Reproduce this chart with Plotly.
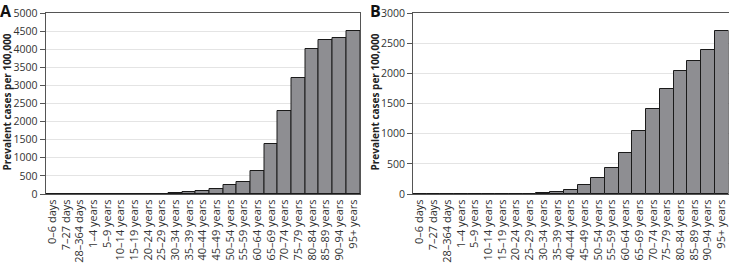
import plotly.graph_objects as go
from plotly.subplots import make_subplots

categories = ["0–6 days", "7–27 days", "28–364 days", "1–4 years", "5–9 years",
              "10–14 years", "15–19 years", "20–24 years", "25–29 years", "30–34 years",
              "35–39 years", "40–44 years", "45–49 years", "50–54 years", "55–59 years",
              "60–64 years", "65–69 years", "70–74 years", "75–79 years", "80–84 years",
              "85–89 years", "90–94 years", "95+ years"]

values_a = [0, 0, 0, 0, 0, 0, 0, 0, 0, 18, 55, 83, 147, 239, 340, 634, 1379,
            2288, 3199, 3998, 4265, 4301, 4504]
values_b = [0, 0, 0, 0, 0, 0, 0, 0, 0, 11, 28, 61, 143, 259, 436, 673, 1042,
            1417, 1748, 2035, 2211, 2393, 2702]

ticks_a = [0, 500, 1000, 1500, 2000, 2500, 3000, 3500, 4000, 4500, 5000]
ticks_b = [0, 500, 1000, 1500, 2000, 2500, 3000]

W, H = 729, 263
TOP, BOT = 13, 194
FONT = "Open Sans"
bar_color = "rgb(142,142,146)"


def py(pix):
    return (BOT - pix) / (BOT - TOP)


fig = make_subplots(rows=1, cols=2)
fig.add_trace(go.Bar(x=categories, y=values_a, marker=dict(color=bar_color,
                     line=dict(color="#1a1a1a", width=1)), showlegend=False), 1, 1)
fig.add_trace(go.Bar(x=categories, y=values_b, marker=dict(color=bar_color,
                     line=dict(color="#1a1a1a", width=1)), showlegend=False), 1, 2)

axis_common = dict(showline=True, mirror=True, linecolor="#555555", linewidth=1)
fig.update_xaxes(**axis_common, tickangle=-90, showgrid=False, ticks="",
                 automargin=False, tickmode="array", tickvals=categories,
                 ticktext=categories,
                 tickfont=dict(family=FONT, size=11, color="#333333"))
fig.update_yaxes(**axis_common, showgrid=True, gridcolor="#e4e4e4", ticks="outside",
                 ticklen=5, tickcolor="#555555", zeroline=False, automargin=False,
                 tickfont=dict(family=FONT, size=10.5, color="#333333"))

fig.update_xaxes(domain=[45.5 / W, 360 / W], row=1, col=1)
fig.update_xaxes(domain=[413 / W, 728.5 / W], row=1, col=2)
fig.update_yaxes(range=[0, 5000], tickvals=ticks_a, row=1, col=1)
fig.update_yaxes(range=[0, 3000], tickvals=ticks_b, row=1, col=2)

annotations = [
    dict(text="<b>A</b>", x=-2 / W, y=py(-2)),
    dict(text="<b>B</b>", x=368 / W, y=py(-2)),
]
for a in annotations:
    a.update(xref="paper", yref="paper", showarrow=False, xanchor="left", yanchor="top",
             font=dict(family=FONT, size=16, color="#111111"))

titles = [
    dict(text="<b>Prevalent cases per 100,000</b>", x=6 / W),
    dict(text="<b>Prevalent cases per 100,000</b>", x=374 / W),
]
for t in titles:
    t.update(xref="paper", yref="paper", y=py(102.5), textangle=-90,
             showarrow=False, xanchor="center", yanchor="middle",
             font=dict(family=FONT, size=10, color="#222222"))

fig.update_layout(
    width=W, height=H,
    margin=dict(l=0, r=0, t=TOP, b=H - BOT),
    bargap=0,
    plot_bgcolor="white", paper_bgcolor="white",
    annotations=annotations + titles,
)
fig.write_html("out.html", config={"displayModeBar": False},
               post_script="document.body.style.margin='0';")
